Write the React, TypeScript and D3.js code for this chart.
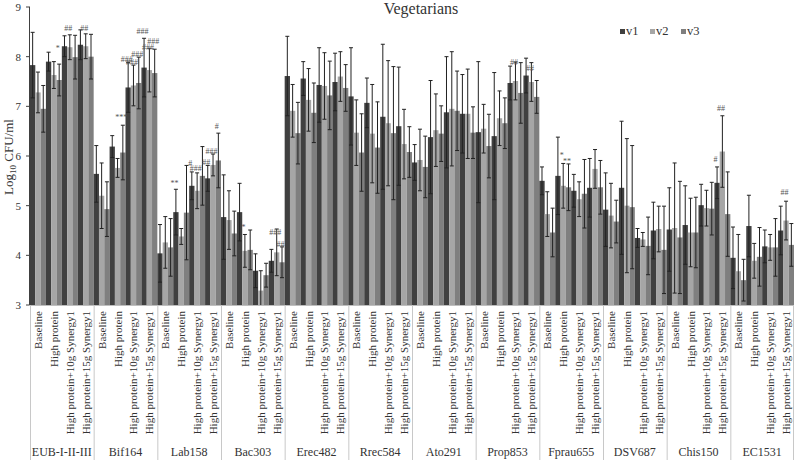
import React from "react";
import * as d3 from "d3";

const groups = ["EUB-I-II-III", "Bif164", "Lab158", "Bac303", "Erec482", "Rrec584", "Ato291", "Prop853", "Fprau655", "DSV687", "Chis150", "EC1531"];
const conditions = ["Baseline", "High protein", "High protein+10g Synergy1", "High protein+15g Synergy1"];
const seriesNames = ["v1", "v2", "v3"];
const seriesColors = ["#404040", "#a6a6a6", "#7f7f7f"];
const yTicks = [3, 4, 5, 6, 7, 8, 9];

// means, group-major, 4 conditions per group
const v1 = [
  7.83, 7.90, 8.21, 8.24,
  5.64, 6.19, 7.38, 7.78,
  4.04, 4.87, 5.40, 5.55,
  4.77, 4.87, 3.69, 3.89,
  7.61, 7.56, 7.43, 7.49,
  7.20, 7.07, 6.79, 6.60,
  5.87, 6.38, 6.88, 6.85,
  6.48, 6.40, 7.47, 7.62,
  5.50, 5.60, 5.30, 5.36,
  4.92, 5.36, 4.35, 4.50,
  4.52, 4.61, 5.01, 5.46,
  3.95, 4.59, 4.18, 4.50,
];
const v2 = [
  7.28, 7.63, 8.19, 8.21,
  5.20, 5.76, 7.42, 7.73,
  4.26, 4.38, 5.30, 5.82,
  4.71, 4.09, 3.29, 4.06,
  6.91, 7.13, 7.41, 7.60,
  6.47, 6.45, 6.66, 6.24,
  5.92, 6.52, 6.95, 6.85,
  6.55, 6.76, 7.51, 7.49,
  4.83, 5.40, 5.13, 5.74,
  4.80, 5.00, 4.32, 4.53,
  4.55, 4.46, 4.95, 6.09,
  3.68, 3.89, 4.16, 4.70,
];
const v3 = [
  6.95, 7.53, 7.99, 8.00,
  4.93, 6.07, 7.47, 7.67,
  4.16, 4.86, 5.60, 5.91,
  4.44, 4.11, 3.60, 3.86,
  6.46, 6.87, 7.22, 7.37,
  6.07, 6.17, 6.46, 6.08,
  5.78, 6.45, 6.91, 6.47,
  6.20, 6.66, 7.27, 7.19,
  4.46, 5.37, 5.24, 5.37,
  4.68, 4.97, 4.19, 4.11,
  4.36, 4.46, 4.94, 4.83,
  3.50, 3.97, 4.16, 4.21,
];
// standard deviations
const sd1 = [
  0.66, 0.19, 0.21, 0.30,
  0.57, 0.22, 0.50, 0.59,
  0.58, 0.46, 0.28, 0.26,
  0.85, 0.58, 0.34, 0.23,
  0.80, 0.34, 0.75, 0.58,
  0.98, 0.50, 1.46, 1.19,
  0.36, 1.14, 1.12, 0.79,
  1.42, 1.28, 0.34, 0.35,
  0.28, 0.78, 0.33, 0.59,
  0.74, 1.34, 0.19, 0.57,
  0.84, 0.79, 0.42, 0.32,
  0.62, 0.62, 0.33, 0.49,
];
const sd2 = [
  0.41, 0.27, 0.25, 0.25,
  0.66, 0.19, 0.41, 0.44,
  0.52, 0.16, 0.36, 0.22,
  0.59, 0.33, 0.40, 0.47,
  0.53, 0.63, 0.67, 0.50,
  0.66, 0.99, 1.26, 0.70,
  0.62, 0.73, 1.15, 0.90,
  0.49, 0.55, 0.38, 0.39,
  0.45, 0.45, 0.35, 0.39,
  0.65, 1.35, 0.14, 0.46,
  1.31, 0.69, 0.36, 0.72,
  0.74, 0.35, 0.26, 0.39,
];
const sd3 = [
  0.47, 0.32, 0.44, 0.45,
  0.55, 0.55, 0.52, 0.48,
  0.58, 0.95, 0.59, 0.55,
  0.45, 0.40, 0.24, 0.31,
  0.62, 0.60, 0.69, 0.47,
  0.78, 0.92, 1.34, 0.51,
  0.62, 0.56, 0.80, 0.52,
  0.64, 0.51, 0.61, 0.33,
  0.49, 0.47, 0.69, 0.54,
  0.43, 1.24, 0.58, 0.88,
  1.13, 0.71, 0.53, 0.85,
  0.42, 0.59, 0.58, 0.43,
];

// significance marks: group index, condition index, series index, label, y value of label
const annGroup = [0, 0, 0, 1, 1, 1, 1, 1, 1, 1, 2, 2, 2, 2, 2, 2, 3, 3, 3, 7, 7, 8, 8, 10, 10, 11];
const annCond = [1, 2, 3, 1, 2, 2, 2, 3, 3, 3, 1, 2, 2, 3, 3, 3, 1, 3, 3, 2, 3, 1, 1, 3, 3, 3];
const annSeries = [2, 1, 1, 2, 0, 1, 2, 0, 1, 2, 0, 0, 1, 0, 1, 2, 1, 1, 2, 1, 1, 1, 2, 0, 1, 1];
const annText = ["*", "##", "##", "***", "###", "###", "###", "###", "###", "###", "**", "#", "###", "##", "###", "#", "*", "###", "##", "##", "##", "*", "**", "#", "##", "##"];
const annY = [8.17, 8.56, 8.56, 6.77, 7.95, 7.89, 8.05, 8.50, 8.19, 8.30, 5.44, 5.85, 5.75, 5.87, 6.09, 6.60, 4.56, 4.46, 4.22, 7.89, 7.77, 6.02, 5.89, 5.93, 6.96, 5.26];

const means = [v1, v2, v3];
const sds = [sd1, sd2, sd3];

const W = 794;
const H = 460;
const left = 30;
const right = 794;
const top = 7;
const bottom = 305;
const FONT = "'Liberation Serif', 'Times New Roman', serif";

export default function App() {
  const xG = d3.scaleBand<string>().domain(groups).range([left, right]).padding(0);
  const xC = d3.scaleBand<string>().domain(conditions).range([0, xG.bandwidth()]).padding(0);
  const xS = d3.scaleBand<string>().domain(seriesNames).range([0, xC.bandwidth()]).padding(0);
  const y = d3.scaleLinear().domain([3, 9]).range([bottom, top]);

  const bars: any[] = [];
  groups.forEach((g, gi) => {
    conditions.forEach((c, ci) => {
      seriesNames.forEach((s, si) => {
        const idx = gi * conditions.length + ci;
        const m = means[si][idx];
        const sd = sds[si][idx];
        const x0 = (xG(g) as number) + (xC(c) as number) + (xS(s) as number);
        bars.push({ key: `${gi}-${ci}-${si}`, x: x0, w: xS.bandwidth(), m, sd, si });
      });
    });
  });

  const cap = 2;

  return (
    <svg width={W} height={H} style={{ position: "absolute", left: 0, top: 0, background: "#fff" }} fontFamily={FONT}>
      {/* title */}
      <text x={421} y={14} fontSize={16} textAnchor="middle" fill="#333">Vegetarians</text>

      {/* legend */}
      {seriesNames.map((s, i) => {
        const lx = [620, 650, 681][i];
        return (
          <g key={s}>
            <rect x={lx} y={29} width={5} height={5} fill={seriesColors[i]} />
            <text x={lx + 6} y={35} fontSize={12.5} fill="#333">{s}</text>
          </g>
        );
      })}

      {/* bars */}
      {bars.map((b) => (
        <rect key={b.key} x={b.x} y={y(b.m)} width={b.w} height={bottom - y(b.m)} fill={seriesColors[b.si]} />
      ))}

      {/* error bars */}
      {bars.map((b) => {
        const cx = b.x + b.w / 2;
        const hi = b.m + b.sd;
        const loRaw = b.m - b.sd;
        const lo = Math.max(3, loRaw);
        return (
          <g key={"e" + b.key} stroke="#222" strokeWidth={1}>
            <line x1={cx} x2={cx} y1={y(hi)} y2={y(lo)} />
            <line x1={cx - cap} x2={cx + cap} y1={y(hi)} y2={y(hi)} />
            {loRaw >= 3 && <line x1={cx - cap} x2={cx + cap} y1={y(lo)} y2={y(lo)} />}
          </g>
        );
      })}

      {/* significance labels */}
      {annText.map((t, i) => {
        const g = groups[annGroup[i]];
        const c = conditions[annCond[i]];
        const s = seriesNames[annSeries[i]];
        const cx = (xG(g) as number) + (xC(c) as number) + (xS(s) as number) + xS.bandwidth() / 2 - 1.5;
        return (
          <text key={"a" + i} x={cx} y={y(annY[i])} fontSize={8} textAnchor="middle" dominantBaseline="central" fill="#555">{t}</text>
        );
      })}

      {/* y axis */}
      <line x1={left - 0.5} x2={left - 0.5} y1={top} y2={bottom} stroke="#404040" strokeWidth={1} />
      {yTicks.map((t) => (
        <g key={"t" + t}>
          <line x1={left - 4} x2={left} y1={y(t)} y2={y(t)} stroke="#404040" />
          <text x={21} y={y(t)} fontSize={11} textAnchor="end" dominantBaseline="central" fill="#333">{t}</text>
        </g>
      ))}
      <text transform={`translate(13,157) rotate(-90)`} fontSize={13} textAnchor="middle" fill="#333">
        Log<tspan fontSize={9} dy={3}>10</tspan><tspan dy={-3}> CFU/ml</tspan>
      </text>

      {/* x axis */}
      <line x1={left - 1} x2={right} y1={bottom + 0.5} y2={bottom + 0.5} stroke="#bfbfbf" />
      {groups.map((g, gi) => (
        <line key={"sep" + gi} x1={(xG(g) as number) + 0.5} x2={(xG(g) as number) + 0.5} y1={bottom} y2={H} stroke="#c8c8c8" />
      ))}
      <line x1={right - 0.5} x2={right - 0.5} y1={bottom} y2={H} stroke="#c8c8c8" />
      {groups.map((g) =>
        conditions.map((c) => {
          const cx = (xG(g) as number) + (xC(c) as number) + xC.bandwidth() / 2;
          return (
            <text key={g + c} transform={`translate(${cx},311) rotate(-90)`} fontSize={11} textAnchor="end" dominantBaseline="central" fill="#333">{c}</text>
          );
        })
      )}
      {groups.map((g) => (
        <text key={"gl" + g} x={(xG(g) as number) + xG.bandwidth() / 2} y={456} fontSize={12} textAnchor="middle" fill="#333">{g}</text>
      ))}
    </svg>
  );
}
